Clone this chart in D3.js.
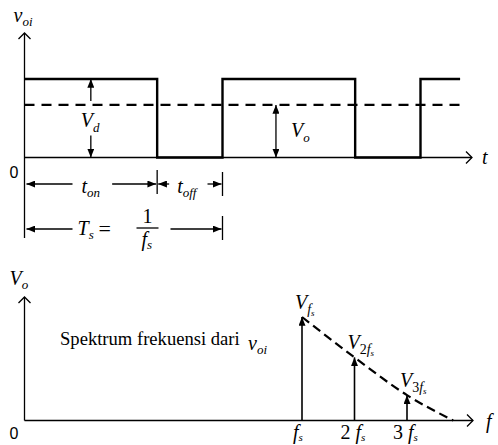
<!DOCTYPE html>
<html><head><meta charset="utf-8">
<script src="https://cdn.jsdelivr.net/npm/d3@7"></script>
<style>body{margin:0;background:#fff}svg{display:block}</style>
</head><body>
<script>
// Switching waveform: time in units of Ts, level in units of Vd
const switchTimes  = [0, 0.67, 1, 1.67, 2, 2.2];
const switchLevels = [1, 0, 1, 0, 1, 1];
const dutyCycle = 0.67;          // ton / Ts, also Vo / Vd
const timeAxisEnd = 2.26;

// Harmonic spectrum: frequency in multiples of fs, amplitude relative to V_fs
const harmonics     = [1, 2, 3];
const harmonicAmps  = [1.0, 0.61, 0.245];
const harmonicNames = ["", "2", "3"];
const envelopeFreqs = [1, 2, 3, 3.88];
const envelopeAmps  = [1.0, 0.61, 0.245, 0];

const W = 498, H = 445;
const serif = "'Liberation Serif','Times New Roman',serif";
const sans  = "'Liberation Sans',Arial,sans-serif";

const svg = d3.select("body").append("svg").attr("width", W).attr("height", H);

const defs = svg.append("defs");
defs.append("marker").attr("id", "ah")
  .attr("viewBox", "0 0 10 8").attr("refX", 10).attr("refY", 4)
  .attr("markerWidth", 9).attr("markerHeight", 7)
  .attr("markerUnits", "userSpaceOnUse").attr("orient", "auto-start-reverse")
  .append("path").attr("d", "M0,0L10,4L0,8Z").attr("fill", "#000");

// Scales
const xT = d3.scaleLinear().domain([0, 1]).range([24.5, 222.5]);
const yV = d3.scaleLinear().domain([0, 1]).range([157.5, 79]);
const xF = d3.scaleLinear().domain([1, 3]).range([302, 407]);
const yA = d3.scaleLinear().domain([0, 1]).range([420.5, 317]);

// Text with italic symbols and subscripts
function label(x, y, parts) {
  const t = svg.append("text").attr("x", x).attr("y", y)
    .attr("font-family", serif).attr("fill", "#000");
  parts.forEach(p => {
    t.append("tspan").text(p.t)
      .attr("font-size", p.s || 20)
      .attr("font-style", p.r ? "normal" : "italic")
      .attr("dy", p.dy || 0);
  });
  return t;
}
function line(x1, y1, x2, y2, w) {
  return svg.append("line").attr("x1", x1).attr("y1", y1).attr("x2", x2).attr("y2", y2)
    .attr("stroke", "#000").attr("stroke-width", w || 1.3);
}
function arrow(x1, y1, x2, y2, both) {
  const l = line(x1, y1, x2, y2, 1.3).attr("marker-end", "url(#ah)");
  if (both) l.attr("marker-start", "url(#ah)");
  return l;
}
function chevron(d) {
  svg.append("path").attr("d", d).attr("fill", "none")
    .attr("stroke", "#000").attr("stroke-width", 1.3);
}

// ---------- Time-domain waveform ----------
const x0 = xT(0), z0 = yV(0);
line(x0, 33, x0, 238);
chevron(`M${x0 - 6},${39}L${x0},${33}L${x0 + 6},${39}`);
const tEnd = xT(timeAxisEnd);
line(x0, z0, tEnd, z0);
chevron(`M${tEnd - 6},${z0 - 6}L${tEnd},${z0}L${tEnd - 6},${z0 + 6}`);

const wave = switchTimes.map((t, i) => ({ t, v: switchLevels[i] }));
svg.append("path").datum(wave)
  .attr("d", d3.line().x(d => xT(d.t)).y(d => yV(d.v)).curve(d3.curveStepAfter))
  .attr("fill", "none").attr("stroke", "#000").attr("stroke-width", 2.4);

// average level Vo
line(x0, yV(dutyCycle), xT(2.2), yV(dutyCycle), 2.2).attr("stroke-dasharray", "10,7");

// Vd dimension
const xd = xT(dutyCycle / 2);
arrow(xd, yV(1) + 22, xd, yV(1));
arrow(xd, z0 - 22, xd, z0);
label(xd - 10, 127, [{ t: "V" }, { t: "d", s: 13, dy: 5 }]);

// Vo dimension
const xo = xT(1.27);
arrow(xo, yV(dutyCycle), xo, z0, true);
label(xo + 15, 137, [{ t: "V" }, { t: "o", s: 13, dy: 5 }]);

label(x0 - 11, 22, [{ t: "v" }, { t: "oi", s: 13, dy: 4 }]);
svg.append("text").attr("x", x0 - 15).attr("y", 178).attr("font-family", sans)
  .attr("font-size", 16).text("0");
label(tEnd + 10, 164, [{ t: "t" }]);

// ton / toff / Ts dimensions
const xOn = xT(dutyCycle), xP = xT(1);
const yOn = 184, yTs = 229;
line(xOn, 170, xOn, 194);
line(xP, 172, xP, 196);
line(xP, 216, xP, 240);
arrow(x0 + 48, yOn, x0 + 2, yOn);
arrow(xOn - 45, yOn, xOn - 1, yOn);
label(x0 + 57, 193, [{ t: "t" }, { t: "on", s: 13, dy: 4 }]);
arrow(xOn + 12, yOn, xOn + 1, yOn);
arrow(xP - 15, yOn, xP - 1, yOn);
label(xOn + 20, 193, [{ t: "t" }, { t: "off", s: 13, dy: 4 }]);

arrow(x0 + 48, yTs, x0 + 2, yTs);
arrow(xP - 52, yTs, xP - 1, yTs);
label(x0 + 53, 235, [{ t: "T" }, { t: "s", s: 13, dy: 4 }]);
svg.append("text").attr("x", x0 + 74).attr("y", 236).attr("font-family", serif)
  .attr("font-size", 22).text("=");
line(x0 + 112, 228, x0 + 134, 228, 1.3);
svg.append("text").attr("x", x0 + 123).attr("y", 223).attr("text-anchor", "middle")
  .attr("font-family", serif).attr("font-size", 20).text("1");
label(x0 + 117, 246, [{ t: "f" }, { t: "s", s: 13, dy: 3 }]);

// ---------- Frequency spectrum ----------
const b0 = yA(0);
line(x0, 297, x0, b0);
chevron(`M${x0 - 6},${303}L${x0},${297}L${x0 + 6},${303}`);
const fEnd = 473;
line(x0, b0, fEnd, b0);
chevron(`M${fEnd - 6},${b0 - 6}L${fEnd},${b0}L${fEnd - 6},${b0 + 6}`);

label(x0 - 15, 285, [{ t: "V" }, { t: "o", s: 13, dy: 4 }]);
svg.append("text").attr("x", x0 - 15).attr("y", 439).attr("font-family", sans)
  .attr("font-size", 16).text("0");
label(fEnd + 13, 428, [{ t: "f" }]);

svg.append("text").attr("x", 60).attr("y", 345).attr("font-family", serif)
  .attr("font-size", 18.6).text("Spektrum frekuensi dari");
label(248, 350, [{ t: "v" }, { t: "oi", s: 13, dy: 4 }]);

// envelope
const env = envelopeFreqs.map((f, i) => ({ f, a: envelopeAmps[i] }));
svg.append("path").datum(env)
  .attr("d", d3.line().x(d => xF(d.f)).y(d => yA(d.a)).curve(d3.curveMonotoneX))
  .attr("fill", "none").attr("stroke", "#000").attr("stroke-width", 2.2)
  .attr("stroke-dasharray", "9,5");

// harmonic stems
harmonics.forEach((h, i) => {
  const x = xF(h), y = yA(harmonicAmps[i]);
  arrow(x, b0, x, y).attr("stroke-width", 1.6);
  const parts = [{ t: "V" }];
  if (harmonicNames[i]) parts.push({ t: harmonicNames[i], s: 14, r: true, dy: 5 });
  parts.push({ t: "f", s: 14, dy: harmonicNames[i] ? 0 : 5 }, { t: "s", s: 9, dy: 2 });
  label(x - 7, y - 8, parts);
  const xl = [{ t: harmonicNames[i] ? harmonicNames[i] + " " : "", r: true }, { t: "f" }, { t: "s", s: 11, dy: 2 }];
  label(harmonicNames[i] ? x - 14 : x - 9, 439, xl);
});
</script>
</body></html>
